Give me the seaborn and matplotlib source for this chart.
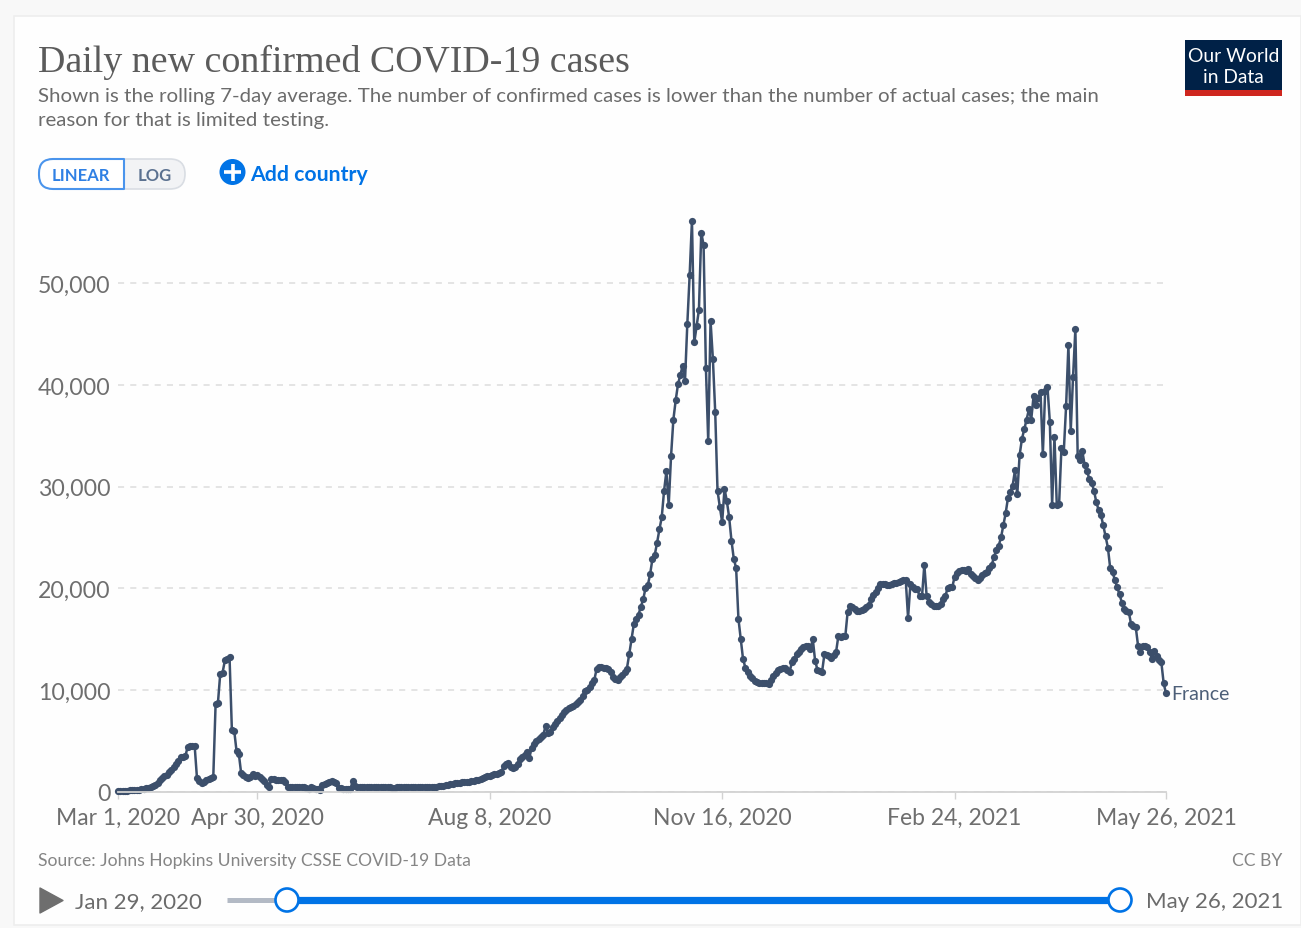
import pandas as pd
import matplotlib.pyplot as plt
import seaborn as sns
from matplotlib.patches import FancyBboxPatch, Rectangle, Circle, Polygon

# daily values, one row = 10 days from Mar 1, 2020
cases = [
    20, 30, 40, 50, 80, 120, 130, 140, 150, 170,
    200, 230, 300, 380, 490, 540, 650, 850, 1100, 1300,
    1500, 1650, 1900, 2100, 2400, 2700, 3000, 3350, 3400, 3500,
    4400, 4500, 4500, 4450, 1280, 1050, 790, 950, 1100, 1250,
    1300, 1400, 8600, 8700, 11600, 11700, 12900, 13000, 13200, 6100,
    6000, 4000, 3700, 1800, 1600, 1400, 1350, 1400, 1750, 1500,
    1650, 1450, 1250, 1000, 600, 420, 1250, 1200, 1100, 1100,
    1100, 1100, 900, 450, 450, 480, 470, 450, 450, 440,
    430, 300, 280, 400, 350, 220, 200, 150, 650, 700,
    800, 950, 1000, 950, 850, 300, 320, 280, 260, 250,
    250, 1000, 500, 480, 470, 480, 470, 470, 470, 470,
    470, 470, 470, 470, 470, 470, 470, 470, 320, 300,
    470, 480, 480, 480, 480, 480, 480, 480, 480, 480,
    480, 480, 490, 490, 490, 490, 490, 490, 500, 500,
    500, 620, 680, 720, 780, 800, 820, 870, 920, 950,
    950, 980, 1000, 1050, 1100, 1150, 1200, 1300, 1400, 1480,
    1550, 1600, 1700, 1750, 1850, 1950, 2500, 2700, 2850, 2400,
    2350, 2400, 2700, 3200, 3400, 3600, 3850, 3300, 4300, 4700,
    5000, 5200, 5400, 5600, 6400, 5800, 5900, 6300, 6600, 6900,
    7200, 7500, 7800, 8000, 8200, 8300, 8400, 8600, 8800, 9000,
    9400, 9900, 10000, 10300, 10700, 11000, 12100, 12300, 12300, 12200,
    12200, 12100, 11800, 11300, 11100, 11000, 11300, 11500, 11800, 12100,
    13500, 15000, 16500, 17000, 17400, 18200, 18900, 20000, 20300, 21400,
    22900, 23300, 24500, 25800, 27000, 29600, 31500, 28200, 33000, 36600,
    38500, 40100, 41000, 41900, 40400, 46000, 50800, 56200, 44200, 45800,
    47400, 55000, 53800, 41700, 34500, 46300, 42600, 37400, 29600, 28000,
    26500, 29800, 28600, 27000, 24700, 22900, 22000, 17000, 15000, 13000,
    12200, 11800, 11400, 11200, 10900, 10800, 10700, 10650, 10650, 10700,
    10600, 11000, 11360, 11700, 11950, 12050, 12200, 12200, 12000, 11750,
    12700, 13000, 13500, 13700, 14000, 14200, 14300, 14300, 14000, 15000,
    12850, 12000, 11900, 11800, 13500, 13400, 13300, 13100, 13400, 13700,
    15300, 15200, 15300, 15300, 17700, 18300, 18200, 18000, 17800, 17800,
    17900, 18000, 18200, 18400, 18900, 19300, 19600, 20000, 20400, 20400,
    20400, 20300, 20300, 20400, 20500, 20500, 20600, 20700, 20800, 20800,
    17100, 20400, 20100, 19900, 19900, 19200, 19200, 22300, 19200, 18700,
    18500, 18300, 18300, 18300, 18500, 18900, 19200, 20000, 20100, 20100,
    21100, 21500, 21700, 21800, 21800, 21700, 21900, 21400, 21200, 21000,
    20800, 21000, 21300, 21500, 21600, 22000, 22300, 23100, 23800, 24200,
    25000, 26200, 27400, 28900, 29500, 30100, 31600, 29250, 33100, 34700,
    35650, 36600, 37600, 36600, 38900, 38000, 38700, 39300, 33200, 39400,
    39800, 36400, 28200, 34900, 28200, 28300, 33800, 33400, 37900, 43900,
    35500, 40800, 45500, 33000, 32600, 33500, 32100, 31500, 30800, 30400,
    29600, 28500, 27700, 27200, 26200, 25100, 24000, 21950, 21600, 20800,
    20100, 19400, 18600, 17950, 17800, 17650, 16450, 16300, 16150, 14300,
    13700, 14300, 14300, 14200, 13700, 13000, 13800, 13300, 12950, 12700,
    10650, 9650,
]
y_ticks = [0, 10000, 20000, 30000, 40000, 50000]
y_labels = ["0", "10,000", "20,000", "30,000", "40,000", "50,000"]
x_ticks = ["2020-03-01", "2020-04-30", "2020-08-08", "2020-11-16", "2021-02-24", "2021-05-26"]
x_labels = ["Mar 1, 2020", "Apr 30, 2020", "Aug 8, 2020", "Nov 16, 2020", "Feb 24, 2021", "May 26, 2021"]

W, H = 1301, 929
GREY = "#6b6b6b"
BLUE = "#0073e6"
LINE = "#3c4f6b"

sns.set_theme(style="white")
plt.rcParams["font.family"] = ["Lato", "DejaVu Sans"]

fig = plt.figure(figsize=(W / 100, H / 100), dpi=100, facecolor="#f8f8f8")

# page furniture, drawn in pixel coordinates
bg = fig.add_axes([0, 0, 1, 1], zorder=0)
bg.set_xlim(0, W)
bg.set_ylim(H, 0)
bg.axis("off")
bg.add_patch(Rectangle((14, 17), W - 14, H - 17 - 3, fc="#fefefe", ec="#eeeeee", lw=1.2))

bg.text(38, 62, "Daily new confirmed COVID-19 cases", family="Liberation Serif", fontsize=27.3,
        color="#5b5b5b", va="center")
bg.text(38, 96, "Shown is the rolling 7-day average. The number of confirmed cases is lower than the number of actual cases; the main",
        fontsize=14.74, color=GREY, va="center")
bg.text(38, 120, "reason for that is limited testing.", fontsize=14.74, color=GREY, va="center")

# linear / log toggle
bg.add_patch(FancyBboxPatch((50, 160), 135, 30, boxstyle="round,pad=0,rounding_size=15",
                            fc="#f2f3f5", ec="#d9dde3", lw=1.2))
bg.add_patch(FancyBboxPatch((39, 160), 85, 30, boxstyle="round,pad=0,rounding_size=14",
                            fc="#ffffff", ec="#4a94ec", lw=1.5))
bg.add_patch(Rectangle((100, 159.4), 24, 31.2, fc="#ffffff", ec="none"))
bg.plot([100, 124, 124, 100], [160, 160, 190, 190], color="#4a94ec", lw=1.5)
bg.text(81, 175.5, "LINEAR", fontsize=12, fontweight="bold", color="#2f80e4", ha="center", va="center")
bg.text(155, 175.5, "LOG", fontsize=12, fontweight="bold", color="#5b7190", ha="center", va="center")

# add country
bg.add_patch(Circle((232.5, 173), 13, fc=BLUE, ec="none"))
bg.plot([224, 241], [173, 173], color="white", lw=2.6, solid_capstyle="butt")
bg.plot([232.5, 232.5], [164.5, 181.5], color="white", lw=2.6, solid_capstyle="butt")
bg.text(250, 174.5, "Add country", fontsize=15.35, fontweight="bold", color=BLUE, va="center")

# logo
bg.add_patch(Rectangle((1185, 41), 97, 51, fc="#002147", ec="none"))
bg.add_patch(Rectangle((1185, 91), 97, 6, fc="#ce261e", ec="none"))
bg.text(1233.5, 56, "Our World", fontsize=13.9, color="white", ha="center", va="center")
bg.text(1233.5, 77, "in Data", fontsize=13.9, color="white", ha="center", va="center")

# footer and time slider
bg.text(38, 861, "Source: Johns Hopkins University CSSE COVID-19 Data", fontsize=12.6, color="#858585", va="center")
bg.text(1282, 861, "CC BY", fontsize=12.6, color="#858585", ha="right", va="center")
bg.add_patch(Polygon([[40, 889], [63, 901.5], [40, 914]], closed=True, fc="#6e6e6e", ec="#6e6e6e", lw=1, joinstyle="round"))
bg.text(75, 902, "Jan 29, 2020", fontsize=16, color=GREY, va="center")
bg.text(1146, 902, "May 26, 2021", fontsize=16, color=GREY, va="center")
bg.plot([227, 287], [901, 901], color="#b3bac5", lw=3.6, solid_capstyle="butt")
bg.plot([287, 1120], [901, 901], color=BLUE, lw=5.2, solid_capstyle="butt")
for cx in (287, 1120):
    bg.add_patch(Circle((cx, 901), 11.5, fc="white", ec=BLUE, lw=1.9, zorder=3))

# the chart itself
df = pd.DataFrame({"date": pd.date_range("2020-03-01", periods=len(cases)), "cases": cases})

left, right, bottom, top = 118, 1166, 792.5, 221.5
ax = fig.add_axes([left / W, 1 - bottom / H, (right - left) / W, (bottom - top) / H], zorder=1)
ax.patch.set_alpha(0)
sns.lineplot(data=df, x="date", y="cases", ax=ax, color=LINE, linewidth=1.8, marker="o",
             markersize=5.2, markeredgewidth=0, clip_on=False, errorbar=None)

ax.set_xlim(df["date"].iloc[0], df["date"].iloc[-1])
ax.set_ylim(0, 56200)
ax.set_xlabel("")
ax.set_ylabel("")
ax.set_yticks(y_ticks)
ax.set_yticklabels(y_labels)
ax.set_xticks(pd.to_datetime(x_ticks))
ax.set_xticklabels(x_labels)
ax.tick_params(axis="y", length=0, pad=5.5, labelsize=16.7, labelcolor="#6e6e6e")
ax.tick_params(axis="x", length=5, width=1, color="#d2d2d2", pad=6, labelsize=16.5, labelcolor="#6e6e6e", bottom=True)

ax.yaxis.grid(True, linestyle=(0, (4, 4)), color="#dddddd", linewidth=1.1)
ax.xaxis.grid(False)
sns.despine(ax=ax, left=True)
ax.spines["bottom"].set_color("#d2d2d2")
ax.spines["bottom"].set_linewidth(1.3)
ax.set_axisbelow(True)

ax.annotate("France", xy=(df["date"].iloc[-1], cases[-1]), xytext=(4, 0), textcoords="offset points",
            fontsize=14, color="#4d5f78", va="center", annotation_clip=False)

fig.savefig("out.png", dpi=100, facecolor=fig.get_facecolor())
